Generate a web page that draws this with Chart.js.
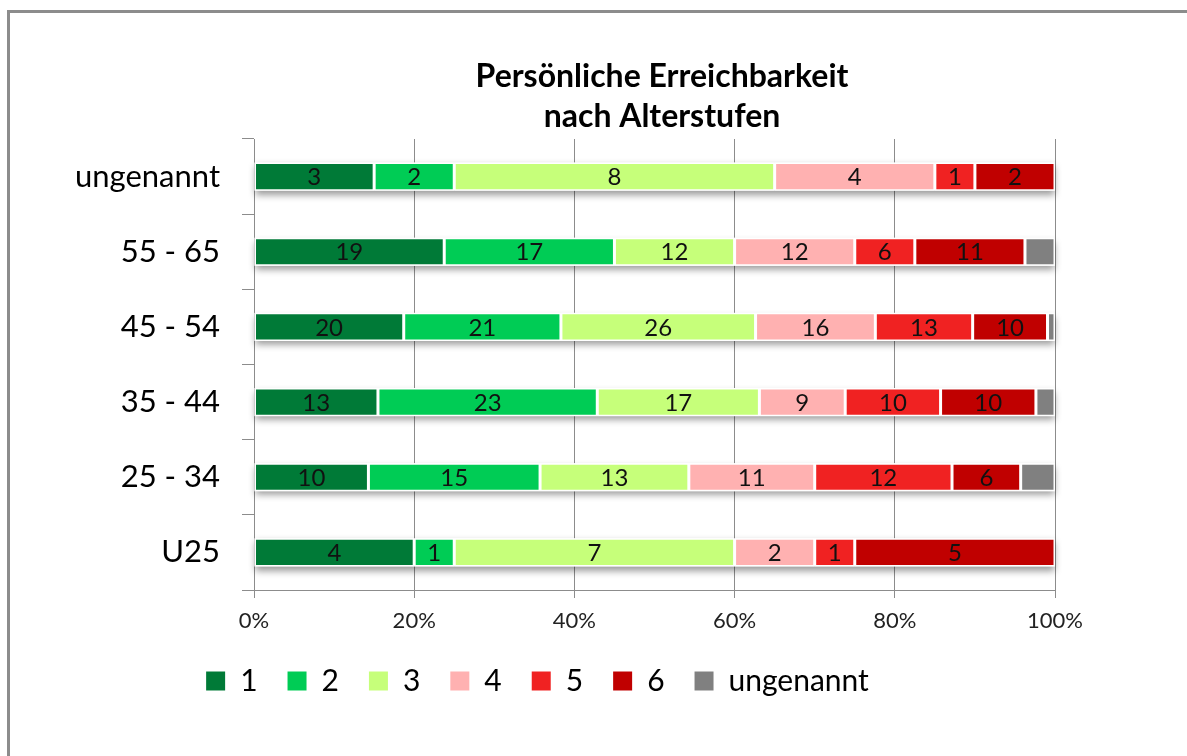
<!DOCTYPE html>
<html>
<head>
<meta charset="utf-8">
<script src="https://cdn.jsdelivr.net/npm/chart.js@4.4.1/dist/chart.umd.min.js"></script>
<style>
  body { margin: 0; background: #fff; overflow: hidden; }
  #wrap { position: relative; width: 1187px; height: 756px; }
  #frame { position: absolute; left: 7px; top: 10px; width: 1400px; height: 1000px;
           border-left: 3px solid #8c8c8c; border-top: 3px solid #8c8c8c; }
  canvas { position: absolute; left: 0; top: 0; }
</style>
</head>
<body>
<div id="wrap">
  <div id="frame"></div>
  <canvas id="chart" width="1187" height="756"></canvas>
</div>
<script>
// age groups, top to bottom
const ageGroups = ['ungenannt', '55 - 65', '45 - 54', '35 - 44', '25 - 34', 'U25'];
const seriesNames = ['1', '2', '3', '4', '5', '6', 'ungenannt'];
const colors = ['#007A37', '#00CC55', '#C6FF7A', '#FFB1B1', '#F02222', '#C00000', '#808080'];

// counts per answer (1 = best ... 6), one value per age group
const grade1 = [3, 19, 20, 13, 10, 4];
const grade2 = [2, 17, 21, 23, 15, 1];
const grade3 = [8, 12, 26, 17, 13, 7];
const grade4 = [4, 12, 16, 9, 11, 2];
const grade5 = [1, 6, 13, 10, 12, 1];
const grade6 = [2, 11, 10, 10, 6, 5];
const gradeNone = [0, 3, 1, 2, 3, 0];

const xTicks = [0, 20, 40, 60, 80, 100];

const allCounts = [grade1, grade2, grade3, grade4, grade5, grade6, gradeNone];
const totals = ageGroups.map((g, i) => allCounts.reduce((s, arr) => s + arr[i], 0));

const FONT = 'Lato, "Open Sans", sans-serif';
const GRID = '#8c8c8c';

const datasets = allCounts.map((arr, k) => ({
    label: seriesNames[k],
    data: arr.map((v, i) => v / totals[i] * 100),
    counts: arr,
    backgroundColor: colors[k],
    borderColor: '#ffffff',
    borderWidth: 1.5,
    borderSkipped: false,
    barPercentage: 0.375,
    categoryPercentage: 1
}));

// soft shadow under each bar row
const barShadow = {
    id: 'barShadow',
    beforeDatasetsDraw(chart) {
        const ctx = chart.ctx;
        const first = chart.getDatasetMeta(0).data;
        const last = chart.getDatasetMeta(chart.data.datasets.length - 1).data;
        ctx.save();
        ctx.shadowColor = 'rgba(0,0,0,0.4)';
        ctx.shadowBlur = 7;
        ctx.shadowOffsetY = 4;
        ctx.fillStyle = '#ffffff';
        first.forEach((bar, i) => {
            const x0 = bar.base;
            const x1 = last[i].x;
            const h = bar.height;
            ctx.fillRect(x0, bar.y - h / 2, x1 - x0, h);
        });
        ctx.restore();
    }
};

// numbers inside the segments
const segmentLabels = {
    id: 'segmentLabels',
    afterDatasetsDraw(chart) {
        const ctx = chart.ctx;
        ctx.save();
        ctx.font = '24px ' + FONT;
        ctx.fillStyle = '#111';
        ctx.textAlign = 'center';
        ctx.textBaseline = 'middle';
        chart.data.datasets.forEach((ds, k) => {
            if (k === chart.data.datasets.length - 1) return;
            chart.getDatasetMeta(k).data.forEach((bar, i) => {
                if (!ds.counts[i]) return;
                ctx.fillText(String(ds.counts[i]), (bar.x + bar.base) / 2, bar.y + 1);
            });
        });
        ctx.restore();
    }
};

const titleLines = {
    id: 'titleLines',
    afterDraw(chart) {
        const ctx = chart.ctx;
        ctx.save();
        ctx.font = 'bold 32px ' + FONT;
        ctx.fillStyle = '#000';
        ctx.textAlign = 'center';
        ctx.textBaseline = 'middle';
        ctx.fillText('Persönliche Erreichbarkeit', 662, 77);
        ctx.fillText('nach Alterstufen', 662, 117);
        ctx.restore();
    }
};

new Chart(document.getElementById('chart'), {
    type: 'bar',
    data: { labels: ageGroups, datasets: datasets },
    options: {
        indexAxis: 'y',
        responsive: false,
        animation: false,
        layout: { padding: { top: 139, left: 20, right: 132, bottom: 50 } },
        scales: {
            x: {
                stacked: true,
                min: 0,
                max: 100,
                afterBuildTicks(scale) { scale.ticks = xTicks.map(v => ({ value: v })); },
                afterFit(scale) { scale.height = 46; },
                ticks: {
                    callback: v => v + '%',
                    font: { family: FONT, size: 22 },
                    color: '#222',
                    padding: 10
                },
                grid: { color: GRID, lineWidth: 1, tickLength: 8 },
                border: { color: GRID, width: 1 }
            },
            y: {
                stacked: true,
                afterFit(scale) { scale.width = 234; },
                ticks: {
                    font: { family: FONT, size: 31 },
                    color: '#000',
                    padding: 22
                },
                grid: { drawOnChartArea: false, color: GRID, tickLength: 12, offset: true },
                border: { color: GRID, width: 1 }
            }
        },
        plugins: {
            title: { display: false },
            tooltip: { enabled: false },
            legend: {
                position: 'bottom',
                align: 'center',
                labels: {
                    boxWidth: 19,
                    boxHeight: 19,
                    padding: 30,
                    color: '#000',
                    font: { family: FONT, size: 30 },
                    generateLabels(chart) {
                        return chart.data.datasets.map((ds, k) => ({
                            text: ds.label,
                            fillStyle: ds.backgroundColor,
                            strokeStyle: ds.backgroundColor,
                            lineWidth: 0,
                            fontColor: '#000',
                            datasetIndex: k
                        }));
                    }
                }
            }
        }
    },
    plugins: [barShadow, segmentLabels, titleLines]
});
</script>
</body>
</html>
